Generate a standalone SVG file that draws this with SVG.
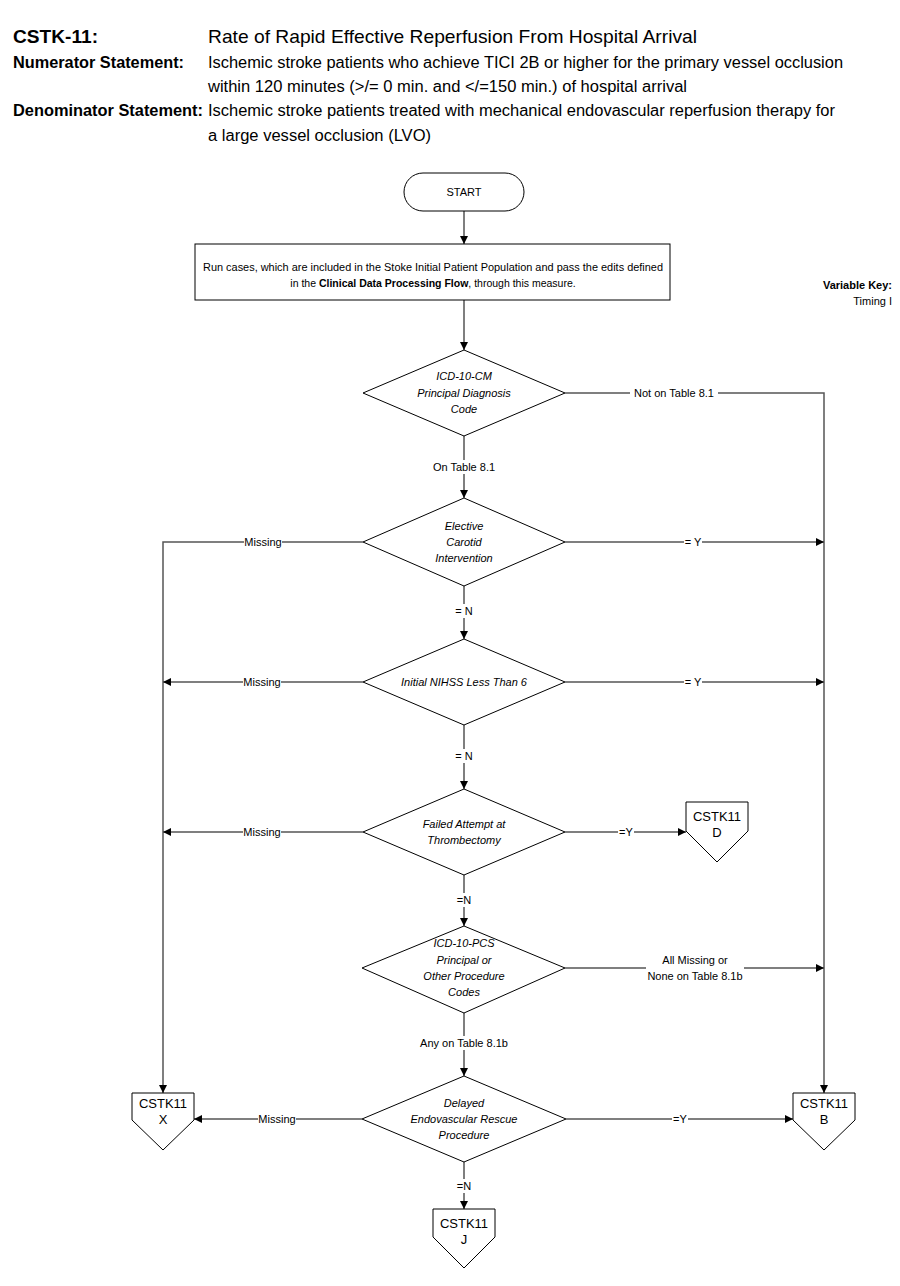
<svg xmlns="http://www.w3.org/2000/svg" width="900" height="1286" viewBox="0 0 900 1286">
<style>
text{font-family:"Liberation Sans Narrow","Liberation Sans",Arial,sans-serif;fill:#000}
.h{font-size:19px}
.hb{font-size:19px;font-weight:bold}
.s{font-size:16px}
.sb{font-size:16px;font-weight:bold}
.t{font-size:11px;text-anchor:middle}
.i{font-size:11px;text-anchor:middle;font-style:italic}
.c{font-size:13px;text-anchor:middle}
.shape{fill:#fff;stroke:#000;stroke-width:1}
.ln{fill:none;stroke:#555;stroke-width:1.5}
.lb{font-size:11px;text-anchor:middle}
</style>
<defs>
<marker id="ar" viewBox="0 0 10 10" refX="10" refY="5" markerWidth="8" markerHeight="8" markerUnits="userSpaceOnUse" orient="auto"><path d="M0,0 L10,5 L0,10 z" fill="#000"/></marker>
</defs>
<g id="header">
<text class="hb" x="13" y="43" textLength="85" lengthAdjust="spacingAndGlyphs">CSTK-11:</text>
<text class="h" x="208" y="43" textLength="489" lengthAdjust="spacingAndGlyphs">Rate of Rapid Effective Reperfusion From Hospital Arrival</text>
<text class="sb" x="13" y="68" textLength="171" lengthAdjust="spacingAndGlyphs">Numerator Statement:</text>
<text class="s" x="208" y="68" textLength="635" lengthAdjust="spacingAndGlyphs">Ischemic stroke patients who achieve TICI 2B or higher for the primary vessel occlusion</text>
<text class="s" x="208" y="92" textLength="479" lengthAdjust="spacingAndGlyphs">within 120 minutes (&gt;/= 0 min. and &lt;/=150 min.) of hospital arrival</text>
<text class="sb" x="13" y="116" textLength="190" lengthAdjust="spacingAndGlyphs">Denominator Statement:</text>
<text class="s" x="208" y="116" textLength="627" lengthAdjust="spacingAndGlyphs">Ischemic stroke patients treated with mechanical endovascular reperfusion therapy for</text>
<text class="s" x="208" y="141" textLength="223" lengthAdjust="spacingAndGlyphs">a large vessel occlusion (LVO)</text>
</g>
<g id="varkey">
<text x="892" y="289" style="font-size:11px;font-weight:bold;text-anchor:end">Variable Key:</text>
<text x="892" y="305" style="font-size:11px;text-anchor:end">Timing I</text>
</g>
<g id="connectors">
<path class="ln" d="M464,211 V244" marker-end="url(#ar)"/>
<path class="ln" d="M464,300 V350" marker-end="url(#ar)"/>
<path class="ln" d="M565,393 H824 V1093" marker-end="url(#ar)"/>
<path class="ln" d="M464,436 V498" marker-end="url(#ar)"/>
<path class="ln" d="M363,542 H163 V1093" marker-end="url(#ar)"/>
<path class="ln" d="M565,542 H824" marker-end="url(#ar)"/>
<path class="ln" d="M464,586 V639" marker-end="url(#ar)"/>
<path class="ln" d="M363,682 H163" marker-end="url(#ar)"/>
<path class="ln" d="M565,682 H824" marker-end="url(#ar)"/>
<path class="ln" d="M464,725 V789" marker-end="url(#ar)"/>
<path class="ln" d="M363,832 H163" marker-end="url(#ar)"/>
<path class="ln" d="M565,832 H686" marker-end="url(#ar)"/>
<path class="ln" d="M464,875 V926" marker-end="url(#ar)"/>
<path class="ln" d="M565,968 H824" marker-end="url(#ar)"/>
<path class="ln" d="M464,1013 V1076" marker-end="url(#ar)"/>
<path class="ln" d="M362,1119 H194" marker-end="url(#ar)"/>
<path class="ln" d="M566,1119 H793" marker-end="url(#ar)"/>
<path class="ln" d="M464,1162 V1209" marker-end="url(#ar)"/>
<g>
<rect x="630" y="386" width="88" height="14" fill="#fff"/><text class="lb" x="674" y="397">Not on Table 8.1</text>
<rect x="430" y="460" width="68" height="14" fill="#fff"/><text class="lb" x="464" y="471">On Table 8.1</text>
<rect x="244" y="535" width="38" height="14" fill="#fff"/><text class="lb" x="263" y="546">Missing</text>
<rect x="684" y="535" width="18" height="14" fill="#fff"/><text class="lb" x="693" y="546">= Y</text>
<rect x="454" y="604" width="20" height="14" fill="#fff"/><text class="lb" x="464" y="615">= N</text>
<rect x="243" y="675" width="38" height="14" fill="#fff"/><text class="lb" x="262" y="686">Missing</text>
<rect x="684" y="675" width="18" height="14" fill="#fff"/><text class="lb" x="693" y="686">= Y</text>
<rect x="454" y="749" width="20" height="14" fill="#fff"/><text class="lb" x="464" y="760">= N</text>
<rect x="243" y="825" width="38" height="14" fill="#fff"/><text class="lb" x="262" y="836">Missing</text>
<rect x="618" y="825" width="16" height="14" fill="#fff"/><text class="lb" x="626" y="836">=Y</text>
<rect x="455" y="893" width="18" height="14" fill="#fff"/><text class="lb" x="464" y="904">=N</text>
<rect x="646" y="953" width="98" height="30" fill="#fff"/><text class="lb" x="695" y="964">All Missing or</text><text class="lb" x="695" y="980">None on Table 8.1b</text>
<rect x="418" y="1036" width="92" height="14" fill="#fff"/><text class="lb" x="464" y="1047">Any on Table 8.1b</text>
<rect x="258" y="1112" width="38" height="14" fill="#fff"/><text class="lb" x="277" y="1123">Missing</text>
<rect x="672" y="1112" width="16" height="14" fill="#fff"/><text class="lb" x="680" y="1123">=Y</text>
<rect x="455" y="1179" width="18" height="14" fill="#fff"/><text class="lb" x="464" y="1190">=N</text>
</g>
</g>
<g id="start">
<rect class="shape" x="404" y="173" width="120" height="38" rx="19"/>
<text class="t" x="464" y="196">START</text>
</g>
<g id="process">
<rect class="shape" x="195" y="244" width="475" height="56"/>
<text class="t" x="433" y="271" style="font-size:10.5px" textLength="460" lengthAdjust="spacingAndGlyphs">Run cases, which are included in the Stoke Initial Patient Population and pass the edits defined</text>
<text class="t" x="433" y="287" style="font-size:10.5px">in the <tspan font-weight="bold">Clinical Data Processing Flow</tspan>, through this measure.</text>
</g>
<g id="d1">
<polygon class="shape" points="464,350 565,393 464,436 363,393"/>
<text class="i" x="464" y="380">ICD-10-CM</text>
<text class="i" x="464" y="397">Principal Diagnosis</text>
<text class="i" x="464" y="413">Code</text>
</g>
<g id="d2">
<polygon class="shape" points="464,498 565,542 464,586 363,542"/>
<text class="i" x="464" y="530">Elective</text>
<text class="i" x="464" y="546">Carotid</text>
<text class="i" x="464" y="562">Intervention</text>
</g>
<g id="d3">
<polygon class="shape" points="464,639 565,682 464,725 363,682"/>
<text class="i" x="464" y="686">Initial NIHSS Less Than 6</text>
</g>
<g id="d4">
<polygon class="shape" points="464,789 565,832 464,875 363,832"/>
<text class="i" x="464" y="828">Failed Attempt at</text>
<text class="i" x="464" y="844">Thrombectomy</text>
</g>
<g id="d5">
<polygon class="shape" points="464,926 565,968 464,1013 362,968"/>
<text class="i" x="464" y="947">ICD-10-PCS</text>
<text class="i" x="464" y="964">Principal or</text>
<text class="i" x="464" y="980">Other Procedure</text>
<text class="i" x="464" y="996">Codes</text>
</g>
<g id="d6">
<polygon class="shape" points="464,1076 566,1119 464,1162 362,1119"/>
<text class="i" x="464" y="1107">Delayed</text>
<text class="i" x="464" y="1123">Endovascular Rescue</text>
<text class="i" x="464" y="1139">Procedure</text>
</g>
<g id="nodeD">
<polygon class="shape" points="686,802 748,802 748,831 717,862 686,831"/>
<text class="c" x="717" y="821">CSTK11</text>
<text class="c" x="717" y="837">D</text>
</g>
<g id="nodeX">
<polygon class="shape" points="132,1093 194,1093 194,1120 163,1150 132,1120"/>
<text class="c" x="163" y="1108">CSTK11</text>
<text class="c" x="163" y="1124">X</text>
</g>
<g id="nodeB">
<polygon class="shape" points="793,1093 855,1093 855,1120 824,1150 793,1120"/>
<text class="c" x="824" y="1108">CSTK11</text>
<text class="c" x="824" y="1124">B</text>
</g>
<g id="nodeJ">
<polygon class="shape" points="433,1209 495,1209 495,1237 464,1268 433,1237"/>
<text class="c" x="464" y="1228">CSTK11</text>
<text class="c" x="464" y="1244">J</text>
</g>
</svg>
